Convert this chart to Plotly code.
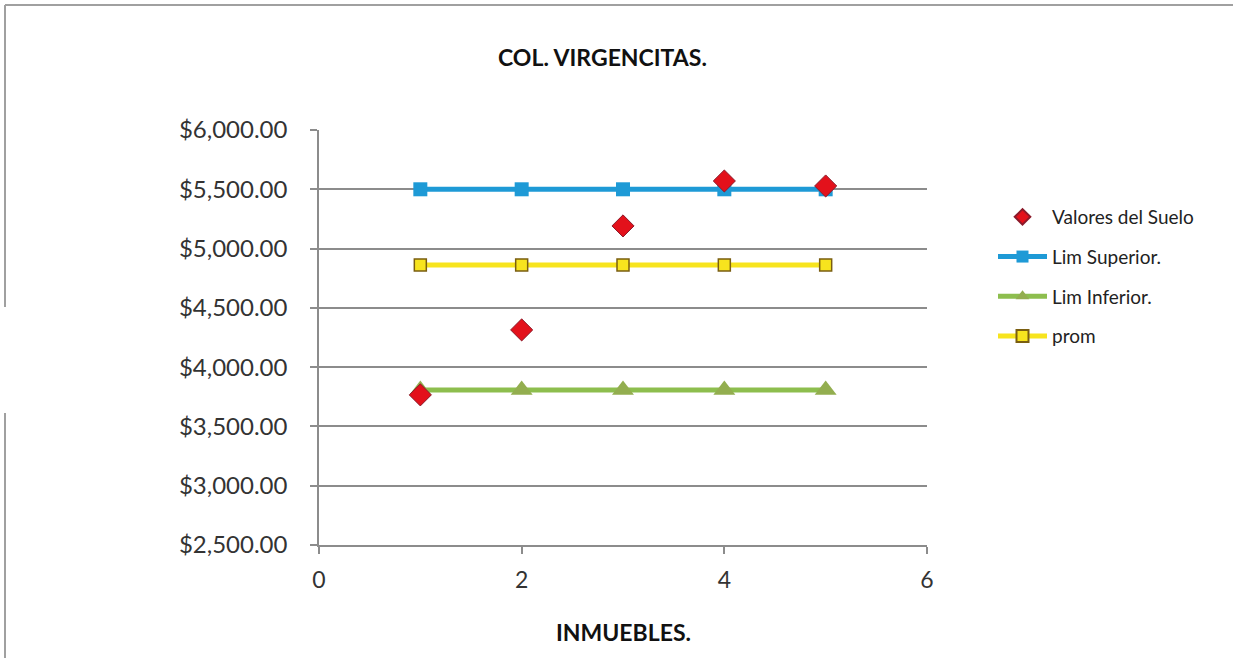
import plotly.graph_objects as go

# ---- data ----
inmuebles = [1, 2, 3, 4, 5]
valores_suelo = [3766, 4314, 5191, 5570, 5528]
lim_superior = [5500, 5500, 5500, 5500, 5500]
lim_inferior = [3808, 3808, 3808, 3808, 3808]
prom = [4862, 4862, 4862, 4862, 4862]

y_ticks = [2500, 3000, 3500, 4000, 4500, 5000, 5500, 6000]
x_ticks = [0, 2, 4, 6]

W, H = 1233, 658
L, R, T, B = 319, 927, 130, 545   # plot area pixel edges
FONT = "Lato"

def px(x):
    return (x - L) / (R - L)

def py(y):
    return (B - y) / (B - T)

fig = go.Figure()

fig.add_trace(go.Scatter(
    x=inmuebles, y=lim_superior, name="Lim Superior.", mode="lines+markers",
    line=dict(color="#1E9AD6", width=5),
    marker=dict(symbol="square", size=14, color="#1E9AD6"),
    legendrank=2, legendgroup="b"))
fig.add_trace(go.Scatter(
    x=inmuebles, y=lim_inferior, name="Lim Inferior.", mode="lines+markers",
    line=dict(color="#8DBE4E", width=5),
    marker=dict(symbol="triangle-up", size=19, color="#93AE4F"),
    legendrank=3, legendgroup="c"))
fig.add_trace(go.Scatter(
    x=inmuebles, y=prom, name="prom", mode="lines+markers",
    line=dict(color="#F7E41E", width=5),
    marker=dict(symbol="square", size=12, color="#F7E41E",
                line=dict(color="#7A5E10", width=1.5)),
    legendrank=4, legendgroup="d"))
fig.add_trace(go.Scatter(
    x=inmuebles, y=valores_suelo, name="Valores del Suelo", mode="markers",
    marker=dict(symbol="diamond", size=17, color="#E3111B",
                line=dict(color="#8B1A2A", width=1)),
    legendrank=1, legendgroup="a"))

axis_color = "#8C8C8C"
fig.update_xaxes(
    range=[0, 6], tickvals=x_ticks, showgrid=False, zeroline=False,
    showline=True, linecolor=axis_color, linewidth=1.5,
    ticks="outside", ticklen=7, tickcolor=axis_color, tickwidth=1.5,
    tickfont=dict(family=FONT, size=23, color="#333333"),
    ticklabelstandoff=7)
fig.update_yaxes(
    range=[2500, 6000], tickvals=y_ticks, tickformat="$,.2f",
    showgrid=True, gridcolor=axis_color, gridwidth=1.5, zeroline=False,
    showline=True, linecolor=axis_color, linewidth=1.5,
    ticks="outside", ticklen=7, tickcolor=axis_color, tickwidth=1.5,
    tickfont=dict(family=FONT, size=24, color="#333333"),
    ticklabelstandoff=18)

shapes = [
    dict(type="line", xref="paper", yref="paper",
         x0=px(5), x1=px(W), y0=py(5), y1=py(5),
         line=dict(color="#A0A0A0", width=2)),
    dict(type="line", xref="paper", yref="paper",
         x0=px(5), x1=px(5), y0=py(5), y1=py(307),
         line=dict(color="#A0A0A0", width=2)),
    dict(type="line", xref="paper", yref="paper",
         x0=px(5), x1=px(5), y0=py(413), y1=py(H),
         line=dict(color="#A0A0A0", width=2)),
]

annotations = [
    dict(text="<b>COL. VIRGENCITAS.</b>", xref="paper", yref="paper",
         x=px(602), y=py(57), showarrow=False, xanchor="center", yanchor="middle",
         font=dict(family=FONT, size=23, color="#111111")),
    dict(text="<b>INMUEBLES.</b>", xref="paper", yref="paper",
         x=px(623), y=py(632), showarrow=False, xanchor="center", yanchor="middle",
         font=dict(family=FONT, size=23, color="#111111")),
]

fig.update_layout(
    width=W, height=H,
    margin=dict(l=L, r=W - R, t=T, b=H - B),
    paper_bgcolor="white", plot_bgcolor="white",
    showlegend=True,
    legend=dict(x=px(993), y=py(198), xanchor="left", yanchor="top",
                font=dict(family=FONT, size=19, color="#222222"),
                traceorder="grouped", tracegroupgap=12,
                itemsizing="constant",
                bgcolor="rgba(0,0,0,0)", itemwidth=49),
    shapes=shapes, annotations=annotations,
)

fig.write_html("out.html")
